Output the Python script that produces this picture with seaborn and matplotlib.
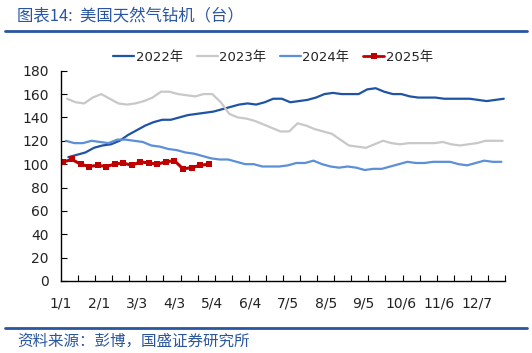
import numpy as np
import pandas as pd
import seaborn as sns
import matplotlib.pyplot as plt
from matplotlib.lines import Line2D

# weekly US natural gas rig counts (Baker Hughes)
v2022 = [106, 108, 110, 114, 116, 117, 120, 125, 129, 133, 136, 138, 138, 140, 142, 143,
         144, 145, 147, 149, 151, 152, 151, 153, 156, 156, 153, 154, 155, 157, 160, 161,
         160, 160, 160, 164, 165, 162, 160, 160, 158, 157, 157, 157, 156, 156, 156, 156,
         155, 154, 155, 156]
v2023 = [156, 153, 152, 157, 160, 156, 152, 151, 152, 154, 157, 162, 162, 160, 159, 158,
         160, 160, 153, 143, 140, 139, 137, 134, 131, 128, 128, 135, 133, 130, 128, 126,
         121, 116, 115, 114, 117, 120, 118, 117, 118, 118, 118, 118, 119, 117, 116, 117,
         118, 120, 120, 120]
v2024 = [120, 118, 118, 120, 119, 118, 121, 121, 120, 119, 116, 115, 113, 112, 110, 109,
         107, 105, 104, 104, 102, 100, 100, 98, 98, 98, 99, 101, 101, 103, 100, 98,
         97, 98, 97, 95, 96, 96, 98, 100, 102, 101, 101, 102, 102, 102, 100, 99,
         101, 103, 102, 102]
v2025 = [102, 104, 100, 98, 99, 98, 100, 101, 99, 102, 101, 100, 102, 103, 96, 97, 99, 100]

# day of year (on a leap-year date axis) of each year's first Friday
first_day = {'2022年': 6, '2023年': 5, '2024年': 4, '2025年': 2}
tick_days = [0, 31, 62, 93, 124, 155, 186, 217, 248, 279, 310, 341]
tick_labels = ['1/1', '2/1', '3/3', '4/3', '5/4', '6/4', '7/5', '8/5', '9/5', '10/6', '11/6', '12/7']

series = {'2022年': v2022, '2023年': v2023, '2024年': v2024, '2025年': v2025}
rows = []
for name, vals in series.items():
    for i, v in enumerate(vals):
        rows.append({'day': first_day[name] + 7 * i, 'rigs': v, 'year': name})
df = pd.DataFrame(rows)

colors = {'2022年': '#1f53a6', '2023年': '#c8c8c8', '2024年': '#5b8fd8', '2025年': '#c00000'}
blue = '#2a56a0'

sns.set_style('white')
plt.rcParams['font.family'] = ['DejaVu Sans', 'Noto Sans CJK SC']

fig = plt.figure(figsize=(5.32, 3.53), dpi=100)
ax = fig.add_axes([61 / 532, 1 - 281 / 353, 444 / 532, 210.3 / 353])

for name in ['2022年', '2023年', '2024年']:
    sns.lineplot(data=df[df['year'] == name], x='day', y='rigs', ax=ax,
                 color=colors[name], lw=1.6, label=name)
sns.lineplot(data=df[df['year'] == '2025年'], x='day', y='rigs', ax=ax,
             color=colors['2025年'], lw=2.2, marker='s', markersize=5,
             markeredgewidth=0, label='2025年')

ax.set_xlim(0, 364)
ax.set_ylim(0, 180)
ax.set_yticks(range(0, 181, 20))
ax.set_xticks(tick_days)
ax.set_xticklabels(tick_labels)
ax.set_xticks(range(0, 365, 14), minor=True)
ax.tick_params(axis='x', which='major', length=0, pad=11, labelsize=10, colors='#222222')
ax.tick_params(axis='x', which='minor', direction='in', length=4, width=0.8, color='black', bottom=True)
ax.tick_params(axis='y', direction='in', length=4, width=0.8, color='black', left=True,
               pad=9, labelsize=10, labelcolor='#222222')
ax.set_xlabel('')
ax.set_ylabel('')
for s in ['top', 'right']:
    ax.spines[s].set_visible(False)
for s in ['left', 'bottom']:
    ax.spines[s].set_color('black')
    ax.spines[s].set_linewidth(1.0)

handles = [Line2D([], [], color=colors[n], lw=1.6) for n in ['2022年', '2023年', '2024年']]
handles.append(Line2D([], [], color=colors['2025年'], lw=2.0, marker='s', markersize=4, markeredgewidth=0))
ax.legend(handles, list(series.keys()), loc='center', bbox_to_anchor=(273 / 532, 1 - 57 / 353),
          bbox_transform=fig.transFigure, ncol=4, frameon=False, fontsize=9.5,
          handlelength=1.6, handletextpad=0.1, columnspacing=1.05, labelcolor='#222222')

fig.text(17 / 532, 1 - 16 / 353, '图表14:  美国天然气钻机（台）', color=blue, fontsize=11.8,
         va='center', ha='left', family=['Noto Sans CJK SC', 'DejaVu Sans'])
fig.add_artist(Line2D([5 / 532, 527 / 532], [1 - 31 / 353] * 2, color=blue, lw=2.0))
fig.add_artist(Line2D([5 / 532, 527 / 532], [1 - 328 / 353] * 2, color=blue, lw=2.0))
fig.text(17 / 532, 1 - 341 / 353, '资料来源：彭博，国盛证券研究所', color=blue, fontsize=11.2,
         va='center', ha='left', family=['Noto Sans CJK SC', 'DejaVu Sans'])

fig.savefig('out.png', dpi=100)
